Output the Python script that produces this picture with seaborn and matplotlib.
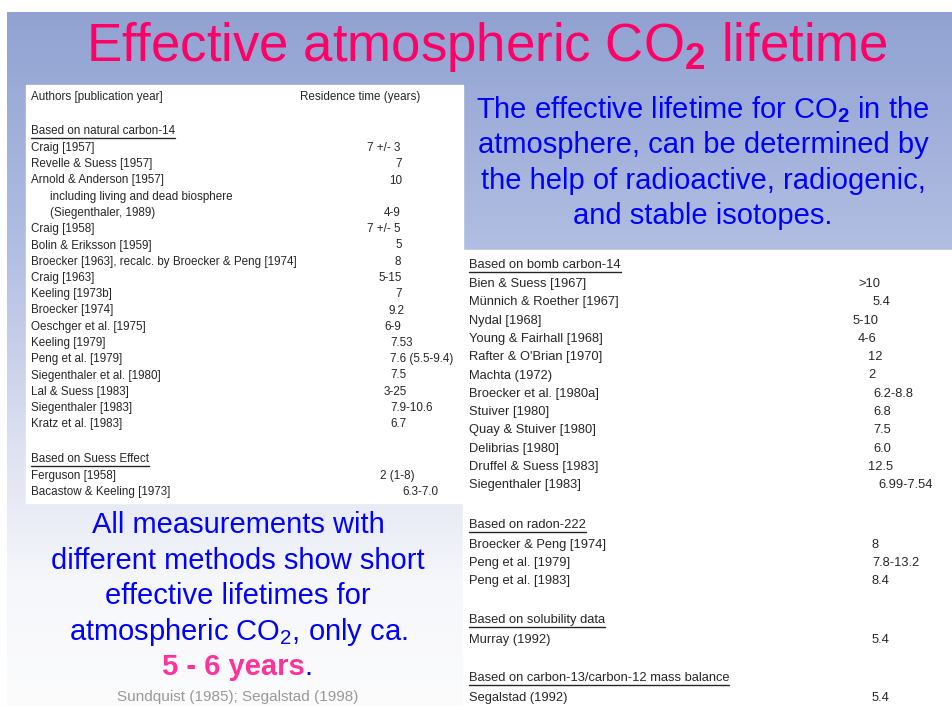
import numpy as np
import matplotlib
matplotlib.use('Agg')
import matplotlib.pyplot as plt
from matplotlib import font_manager
import seaborn as sns

# slide text
title = r'Effective atmospheric CO$_\mathbf{2}$ lifetime'
intro_lines = [r'The effective lifetime for CO$_\mathbf{2}$ in the',
               'atmosphere, can be determined by',
               'the help of radioactive, radiogenic,',
               'and stable isotopes.']
summary_lines = ['All measurements with',
                 'different methods show short',
                 'effective lifetimes for',
                 r'atmospheric CO$_2$, only ca.']
summary_highlight = '5 - 6 years'
source_note = 'Sundquist (1985); Segalstad (1998)'

# left table
col_headers = ['Authors [publication year]', 'Residence time (years)']
natural_c14_authors = ['Craig [1957]', 'Revelle & Suess [1957]', 'Arnold & Anderson [1957]',
                       'including living and dead biosphere', '(Siegenthaler, 1989)',
                       'Craig [1958]', 'Bolin & Eriksson [1959]',
                       'Broecker [1963], recalc. by Broecker & Peng [1974]',
                       'Craig [1963]', 'Keeling [1973b]', 'Broecker [1974]',
                       'Oeschger et al. [1975]', 'Keeling [1979]', 'Peng et al. [1979]',
                       'Siegenthaler et al. [1980]', 'Lal & Suess [1983]',
                       'Siegenthaler [1983]', 'Kratz et al. [1983]']
natural_c14_values = ['7 +/- 3', '7', '10', '', '4-9', '7 +/- 5', '5', '8', '5-15', '7',
                      '9.2', '6-9', '7.53', '7.6 (5.5-9.4)', '7.5', '3-25', '7.9-10.6', '6.7']
suess_authors = ['Ferguson [1958]', 'Bacastow & Keeling [1973]']
suess_values = ['2 (1-8)', '6.3-7.0']

# right table
bomb_c14_authors = ['Bien & Suess [1967]', 'Münnich & Roether [1967]', 'Nydal [1968]',
                    'Young & Fairhall [1968]', "Rafter & O'Brian [1970]", 'Machta (1972)',
                    'Broecker et al. [1980a]', 'Stuiver [1980]', 'Quay & Stuiver [1980]',
                    'Delibrias [1980]', 'Druffel & Suess [1983]', 'Siegenthaler [1983]']
bomb_c14_values = ['>10', '5.4', '5-10', '4-6', '12', '2', '6.2-8.8', '6.8', '7.5',
                   '6.0', '12.5', '6.99-7.54']
radon_authors = ['Broecker & Peng [1974]', 'Peng et al. [1979]', 'Peng et al. [1983]']
radon_values = ['8', '7.8-13.2', '8.4']
solubility_authors = ['Murray (1992)']
solubility_values = ['5.4']
mass_balance_authors = ['Segalstad (1992)']
mass_balance_values = ['5.4']

# layout (pixels)
nat_val_x = [367, 395, 389, 0, 384, 367, 395, 395, 378, 395, 389, 384, 390, 390, 390, 384, 390, 390]
suess_val_x = [380, 402]
bomb_val_x = [858, 873, 853, 858, 868, 868, 873, 873, 873, 873, 868, 878]

sns.set_theme(style='white')
installed = {f.name for f in font_manager.fontManager.ttflist}
narrow = 'Liberation Sans Narrow' if 'Liberation Sans Narrow' in installed else 'Liberation Sans'
plt.rcParams['font.family'] = ['Liberation Sans', 'DejaVu Sans']
plt.rcParams['mathtext.fontset'] = 'custom'
plt.rcParams['mathtext.rm'] = 'Liberation Sans'
plt.rcParams['mathtext.it'] = 'Liberation Sans:italic'
plt.rcParams['mathtext.bf'] = 'Liberation Sans:bold'

fig = plt.figure(figsize=(9.53, 7.06), dpi=100)
ax = fig.add_axes([0, 0, 1, 1])
ax.set_xlim(0, 953)
ax.set_ylim(706, 0)
ax.axis('off')

# background gradient
ys = np.arange(12, 706)
stops = [12, 250, 450, 580, 706]
rgb = np.array([[145, 162, 210], [178, 190, 226], [222, 226, 241], [246, 247, 251], [252, 252, 253]]) / 255
grad = np.stack([np.interp(ys, stops, rgb[:, k]) for k in range(3)], axis=-1)[:, None, :]
ax.imshow(np.repeat(grad, 2, axis=1), extent=(7, 953, 706, 12), aspect='auto', zorder=0)

# white table boxes
ax.add_patch(plt.Rectangle((26, 85), 437, 418, color='white', zorder=1))
ax.add_patch(plt.Rectangle((463, 250), 490, 456, color='white', zorder=1))

pink = '#FF0066'
blue = '#0000FF'
ink = '#262626'

ax.text(487, 47, title, color=pink, fontsize=38, ha='center', va='center', zorder=3)

for i, line in enumerate(intro_lines):
    ax.text(703, 110 + 35.3 * i, line, color=blue, fontsize=21, ha='center', va='center', zorder=3)
for i, line in enumerate(summary_lines):
    ax.text(238, 525 + 35.7 * i, line, color=blue, fontsize=21, ha='center', va='center', zorder=3)
hl = ax.text(233, 667, summary_highlight, color='#FF3399', fontsize=21, fontweight='bold',
             ha='center', va='center', zorder=3)
ax.annotate('.', xy=(1, 0.5), xycoords=hl, color=blue, fontsize=21, ha='left', va='center', zorder=3)
ax.text(238, 697, source_note, color='#999999', fontsize=11, ha='center', va='center', zorder=3)

underline = []


def row(x, y, s, size, under=False):
    t = ax.text(x, y, s, color=ink, fontsize=size, family=[narrow, 'DejaVu Sans'],
                ha='left', va='center', zorder=3)
    if under:
        underline.append(t)


# left table
ls = 10 if narrow != 'Liberation Sans' else 8.4
row(31, 97, col_headers[0], ls)
row(300, 97, col_headers[1], ls)
row(31, 131, 'Based on natural carbon-14', ls, True)
for i, (a, v) in enumerate(zip(natural_c14_authors, natural_c14_values)):
    y = 148 + 16.25 * i
    row(50 if i in (3, 4) else 31, y, a, ls)
    if v:
        row(nat_val_x[i], y, v, ls)
row(31, 459, 'Based on Suess Effect', ls, True)
for i, (a, v) in enumerate(zip(suess_authors, suess_values)):
    row(31, 476 + 16.25 * i, a, ls)
    row(suess_val_x[i], 476 + 16.25 * i, v, ls)

# right table
rs = 11 if narrow != 'Liberation Sans' else 9.3
row(469, 265, 'Based on bomb carbon-14', rs, True)
for i, (a, v) in enumerate(zip(bomb_c14_authors, bomb_c14_values)):
    row(469, 284 + 18.3 * i, a, rs)
    row(bomb_val_x[i], 284 + 18.3 * i, v, rs)
row(469, 525, 'Based on radon-222', rs, True)
for i, (a, v) in enumerate(zip(radon_authors, radon_values)):
    row(469, 545 + 18 * i, a, rs)
    row(872, 545 + 18 * i, v, rs)
row(469, 620, 'Based on solubility data', rs, True)
for a, v in zip(solubility_authors, solubility_values):
    row(469, 640, a, rs)
    row(872, 640, v, rs)
row(469, 678, 'Based on carbon-13/carbon-12 mass balance', rs, True)
for a, v in zip(mass_balance_authors, mass_balance_values):
    row(469, 698, a, rs)
    row(872, 698, v, rs)

# underline the section headers
fig.canvas.draw()
inv = ax.transData.inverted()
for t in underline:
    bb = t.get_window_extent()
    (x0, y0), (x1, _) = inv.transform([(bb.x0, bb.y0), (bb.x1, bb.y1)])
    ax.plot([x0, x1], [y0 + 0.5, y0 + 0.5], color=ink, lw=1, zorder=3)

fig.savefig('out.png', dpi=100)
